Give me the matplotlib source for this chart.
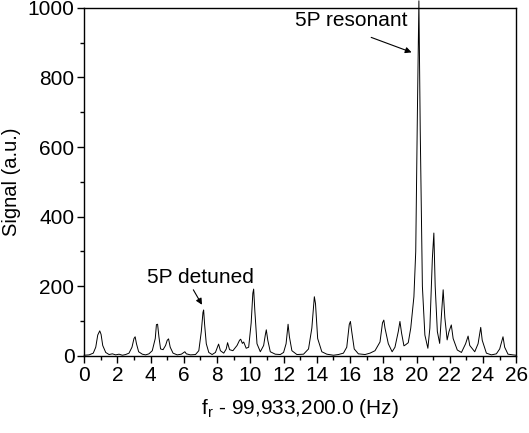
import numpy as np
import matplotlib.pyplot as plt
from matplotlib.ticker import MultipleLocator

plt.rcParams['font.family'] = ['Liberation Sans', 'DejaVu Sans']

# trace (frequency offset in Hz, signal in a.u.)
freq = [0.0, 0.3, 0.55, 0.7, 0.82, 0.94, 1.02, 1.12, 1.3, 1.5, 1.7, 1.9, 2.1, 2.3, 2.5,
        2.7, 2.88, 3.0, 3.07, 3.15, 3.28, 3.5, 3.7, 3.9, 4.1, 4.28, 4.35, 4.42, 4.5, 4.6,
        4.75, 4.9, 5.0, 5.08, 5.18, 5.35, 5.6, 5.85, 6.0, 6.06, 6.15, 6.4, 6.7, 6.9, 7.05,
        7.15, 7.19, 7.25, 7.35, 7.5, 7.7, 7.9, 8.09, 8.2, 8.4, 8.55, 8.63, 8.75, 8.95, 9.2,
        9.35, 9.42, 9.52, 9.6, 9.75, 9.9, 10.05, 10.15, 10.2, 10.27, 10.4, 10.6, 10.8, 10.9,
        10.96, 11.05, 11.2, 11.5, 11.8, 12.0, 12.15, 12.27, 12.35, 12.5, 12.8, 13.2, 13.5,
        13.7, 13.85, 13.92, 14.05, 14.3, 14.6, 15.0, 15.3, 15.6, 15.8, 15.95, 16.02, 16.1,
        16.25, 16.5, 16.9, 17.2, 17.5, 17.8, 17.95, 18.03, 18.1, 18.3, 18.53, 18.7, 18.9,
        19.0, 19.1, 19.24, 19.34, 19.5, 19.65, 19.84, 19.95, 20.05, 20.14, 20.22, 20.35,
        20.5, 20.68, 20.8, 20.95, 21.04, 21.12, 21.25, 21.39, 21.5, 21.6, 21.7, 21.84, 21.95,
        22.09, 22.2, 22.45, 22.7, 22.95, 23.1, 23.2, 23.5, 23.7, 23.86, 23.95, 24.2, 24.5,
        24.8, 25.0, 25.2, 25.3, 25.5, 25.8, 26.0]
signal = [2, 3, 8, 25, 60, 72, 62, 30, 10, 4, 6, 3, 5, 2, 4,
          8, 25, 50, 55, 35, 12, 5, 3, 6, 15, 50, 90, 91, 55, 20,
          18, 30, 45, 49, 25, 8, 3, 5, 10, 12, 6, 3, 4, 15, 70,
          125, 132, 90, 35, 10, 4, 10, 34, 15, 8, 20, 38, 18, 15, 30,
          45, 48, 36, 40, 22, 25, 95, 180, 192, 130, 35, 12, 30, 60,
          75, 45, 12, 5, 4, 10, 35, 91, 55, 15, 4, 5, 20,
          80, 170, 150, 50, 12, 5, 2, 4, 8, 25, 90, 99, 70,
          20, 6, 4, 8, 15, 40, 95, 103, 80, 35, 12, 25, 70,
          99, 65, 29, 32, 38, 80, 170, 300, 700, 1020, 650, 200,
          60, 22, 80, 280, 353, 200, 70, 36, 120, 190, 110, 46, 70,
          89, 50, 17, 10, 35, 57, 30, 12, 35, 82, 45, 8, 3,
          6, 20, 55, 25, 5, 3, 2]

fig = plt.figure(figsize=(5.29, 4.33), dpi=100)
ax = fig.add_axes([0.159, 0.178, 0.817, 0.804])

ax.plot(freq, signal, color='black', lw=0.7, clip_on=False)

ax.set_xlim(0, 26)
ax.set_ylim(0, 1000)
ax.xaxis.set_major_locator(MultipleLocator(2))
ax.xaxis.set_minor_locator(MultipleLocator(1))
ax.yaxis.set_major_locator(MultipleLocator(200))
ax.yaxis.set_minor_locator(MultipleLocator(100))
ax.tick_params(which='both', direction='out', top=False, right=False, labelsize=15)
ax.tick_params(which='major', length=5, width=1, pad=2)
ax.tick_params(which='minor', length=3, width=1)
for s in ax.spines.values():
    s.set_linewidth(1)

ax.set_xlabel(r'f$_\mathregular{r}$ - 99,933,200.0 (Hz)', fontsize=15, labelpad=9)
ax.set_ylabel('Signal (a.u.)', fontsize=14.5, labelpad=5)

# labels with arrows
arrow = dict(arrowstyle='-|>', color='black', lw=0.8, shrinkA=0, shrinkB=0,
             mutation_scale=9)
ax.text(16.1, 937, '5P resonant', fontsize=15, ha='center', va='bottom')
ax.annotate('', xy=(19.7, 872), xytext=(17.27, 915), arrowprops=arrow)
ax.text(7.0, 198, '5P detuned', fontsize=15, ha='center', va='bottom')
ax.annotate('', xy=(7.09, 147), xytext=(6.57, 190), arrowprops=arrow)

fig.savefig('out.png', dpi=100)
